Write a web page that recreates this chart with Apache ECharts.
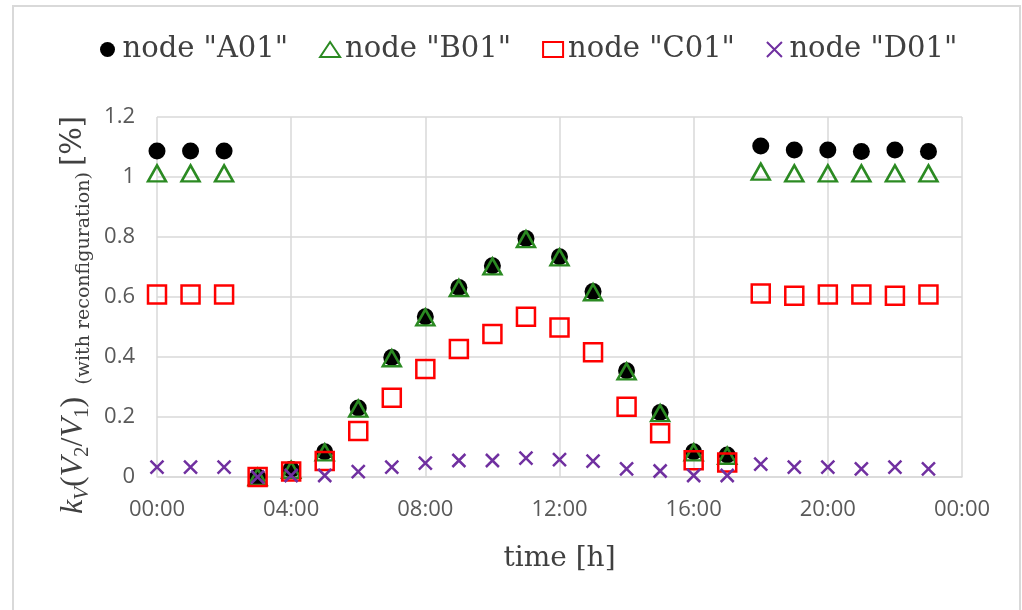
<!DOCTYPE html>
<html>
<head>
    <meta charset="utf-8">
    <title></title>
    <style type="text/css">
        body { margin: 0; background: #fff; }
    </style>
</head>
<body>
<div id="main" style="width: 1022px;height:610px;"></div>

<script type="text/javascript" src="https://cdn.jsdelivr.net/npm/echarts@6/dist/echarts.min.js"></script>
<script type="text/javascript">
    // hour of day for each sample
    var hours = [0, 1, 2, 3, 4, 5, 6, 7, 8, 9, 10, 11, 12, 13, 14, 15, 16, 17, 18, 19, 20, 21, 22, 23];

    var nodeA01 = [1.087, 1.087, 1.087, 0.0, 0.026, 0.084, 0.23, 0.398, 0.534, 0.632, 0.704, 0.795, 0.734, 0.618,
                   0.354, 0.215, 0.084, 0.073, 1.103, 1.09, 1.09, 1.085, 1.09, 1.085];
    var nodeB01 = [1.012, 1.012, 1.012, 0.0, 0.024, 0.082, 0.228, 0.396, 0.532, 0.63, 0.702, 0.793, 0.732, 0.616,
                   0.352, 0.213, 0.082, 0.071, 1.018, 1.012, 1.012, 1.012, 1.012, 1.012];
    var nodeC01 = [0.608, 0.608, 0.608, 0.0, 0.018, 0.053, 0.153, 0.264, 0.36, 0.427, 0.477, 0.534, 0.498, 0.416,
                   0.234, 0.146, 0.056, 0.048, 0.612, 0.604, 0.608, 0.608, 0.604, 0.608];
    var nodeD01 = [0.033, 0.033, 0.033, 0.0, 0.005, 0.005, 0.018, 0.033, 0.046, 0.055, 0.055, 0.063, 0.058, 0.053,
                   0.027, 0.02, 0.005, 0.005, 0.043, 0.033, 0.033, 0.027, 0.033, 0.027];

    var names = ['node "A01"', 'node "B01"', 'node "C01"', 'node "D01"'];

    function pairs(vals) {
        return hours.map(function (h, i) { return [h, vals[i]]; });
    }

    var serif = 'DejaVu Serif';
    var mathFont = 'Liberation Serif';
    var myChart = echarts.init(document.getElementById('main'));

    myChart.setOption({
        animation: false,
        graphic: [{
            type: 'rect',
            shape: { x: 13, y: 6, width: 1007, height: 640 },
            style: { fill: 'none', stroke: '#d9d9d9', lineWidth: 2 },
            silent: true
        }],
        legend: {
            top: 30,
            left: 95,
            itemGap: 31,
            itemWidth: 20,
            itemHeight: 15,
            textStyle: { fontFamily: serif, fontSize: 29, color: '#404040' },
            data: names
        },
        grid: {
            left: 157,
            right: 60,
            top: 117,
            bottom: 133
        },
        xAxis: {
            type: 'value',
            min: 0,
            max: 24,
            interval: 4,
            name: 'time [h]',
            nameLocation: 'middle',
            nameGap: 68,
            nameTextStyle: { fontFamily: serif, fontSize: 28, color: '#404040' },
            axisLine: { lineStyle: { color: '#d9d9d9', width: 1.5 } },
            axisTick: { show: false },
            axisLabel: {
                margin: 22,
                fontFamily: 'Open Sans',
                fontSize: 22,
                color: '#595959',
                formatter: function (v) {
                    var h = v % 24;
                    return (h < 10 ? '0' : '') + h + ':00';
                }
            },
            splitLine: { lineStyle: { color: '#d9d9d9', width: 1.5 } }
        },
        yAxis: {
            type: 'value',
            min: 0,
            max: 1.2,
            interval: 0.2,
            name: '{k|k}{ks|V}{p|(}{v|V}{s|2}{p|/}{v|V}{s|1}{p|)}{sm|  (with reconfiguration) }{q|[%]}',
            nameLocation: 'middle',
            nameGap: 63,
            nameRotate: 90,
            nameTextStyle: {
                padding: [0, 36, 0, 0],
                rich: {
                    k: { fontFamily: mathFont, fontStyle: 'italic', fontSize: 32, color: '#404040', lineHeight: 40 },
                    ks: { fontFamily: mathFont, fontStyle: 'italic', fontSize: 21, color: '#404040', lineHeight: 40, verticalAlign: 'bottom' },
                    v: { fontFamily: mathFont, fontStyle: 'italic', fontSize: 32, color: '#404040', lineHeight: 40 },
                    s: { fontFamily: mathFont, fontSize: 21, color: '#404040', lineHeight: 40, verticalAlign: 'bottom' },
                    p: { fontFamily: mathFont, fontSize: 32, color: '#404040', lineHeight: 40 },
                    sm: { fontFamily: serif, fontSize: 19, color: '#404040', lineHeight: 40, verticalAlign: 'bottom' },
                    q: { fontFamily: serif, fontSize: 29, color: '#404040', lineHeight: 40 }
                }
            },
            axisLine: { show: false },
            axisTick: { show: false },
            axisLabel: {
                margin: 22,
                fontFamily: 'Open Sans',
                fontSize: 22,
                color: '#595959'
            },
            splitLine: { lineStyle: { color: '#d9d9d9', width: 1.5 } }
        },
        series: [{
            name: names[0],
            type: 'scatter',
            symbol: 'circle',
            symbolSize: 17,
            itemStyle: { color: '#000000', opacity: 1 },
            data: pairs(nodeA01)
        }, {
            name: names[1],
            type: 'scatter',
            symbol: 'triangle',
            symbolSize: [18, 16],
            itemStyle: { color: 'rgba(0,0,0,0)', borderColor: '#2b8a22', borderWidth: 2.5, opacity: 1 },
            data: pairs(nodeB01)
        }, {
            name: names[2],
            type: 'scatter',
            symbol: 'rect',
            symbolSize: 18,
            itemStyle: { color: 'rgba(0,0,0,0)', borderColor: '#ff0000', borderWidth: 2.5, opacity: 1 },
            data: pairs(nodeC01)
        }, {
            name: names[3],
            type: 'scatter',
            symbol: 'path://M0,0L10,10M10,0L0,10',
            symbolSize: 13,
            itemStyle: { color: 'rgba(0,0,0,0)', borderColor: '#7030a0', borderWidth: 2.5, opacity: 1 },
            data: pairs(nodeD01)
        }]
    });
</script>

</body>
</html>
